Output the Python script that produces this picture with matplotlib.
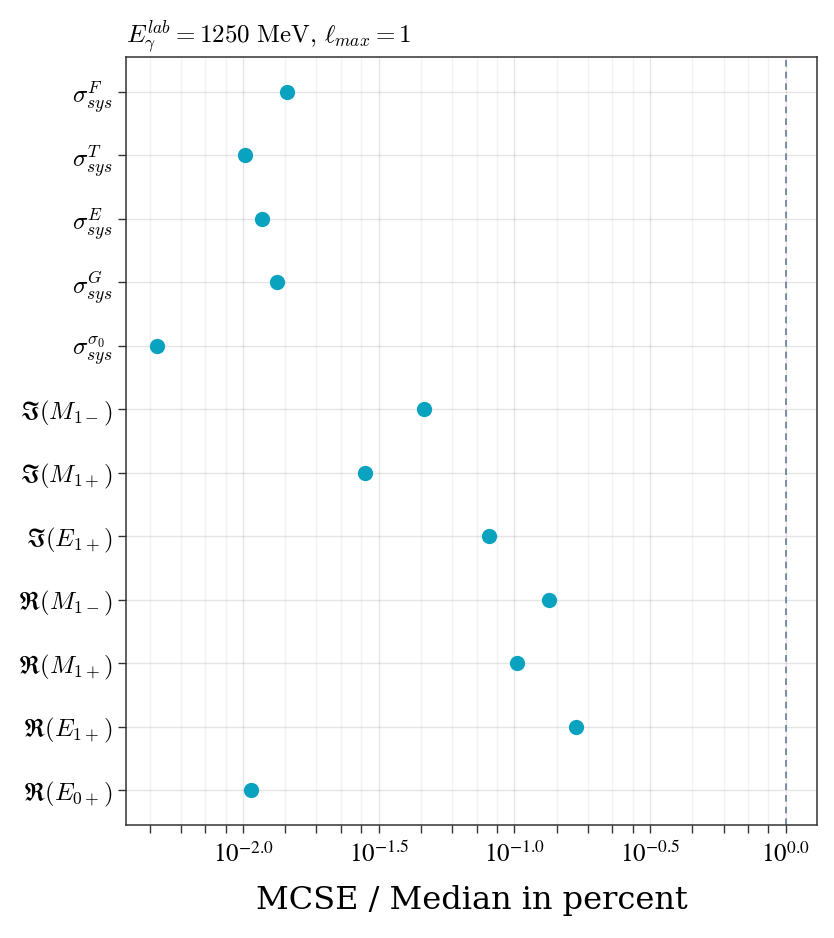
import numpy as np
import matplotlib
matplotlib.use('Agg')
import matplotlib.pyplot as plt

plt.rcParams['mathtext.fontset'] = 'cm'

# bottom to top
labels = [r'$\mathfrak{R}(E_{0+})$', r'$\mathfrak{R}(E_{1+})$', r'$\mathfrak{R}(M_{1+})$', r'$\mathfrak{R}(M_{1-})$',
          r'$\mathfrak{I}(E_{1+})$', r'$\mathfrak{I}(M_{1+})$', r'$\mathfrak{I}(M_{1-})$',
          r'$\sigma_{sys}^{\sigma_0}$', r'$\sigma_{sys}^{G}$', r'$\sigma_{sys}^{E}$',
          r'$\sigma_{sys}^{T}$', r'$\sigma_{sys}^{F}$']
mcse = [0.01067, 0.1687, 0.1023, 0.134,
        0.0806, 0.0281, 0.0465,
        0.00484, 0.01338, 0.01172, 0.0102, 0.01452]
major_exp = [-2.5, -2.0, -1.5, -1.0, -0.5, 0.0]

fig = plt.figure(figsize=(8.34, 9.38), dpi=100)
ax = fig.add_axes([0.1511, 0.1205, 0.9793 - 0.1511, 0.9396 - 0.1205])

ypos = np.arange(1, len(labels) + 1)
ax.plot(mcse, ypos, 'o', color='#0aa3bf', markersize=11, markeredgewidth=0, zorder=3)
ax.axvline(1.0, color='#6b7a99', linestyle=(0, (4, 3)), linewidth=1.2, zorder=2)

ax.set_xscale('log')

# minor ticks split each half decade into 5 equal linear steps
majors = [10**e for e in major_exp]
minors = []
for lo, hi in zip(majors[:-1], majors[1:]):
    minors.extend(np.linspace(lo, hi, 6)[1:-1])
minors.extend(np.linspace(majors[-1], 10**0.5, 6)[1:-1])
minors.extend(np.linspace(10**-3.0, majors[0], 6)[1:-1])
ax.set_xticks(majors)
ax.set_xticklabels([r'$10^{%.1f}$' % e for e in major_exp])
ax.set_xticks(minors, minor=True)
ax.xaxis.set_minor_formatter(matplotlib.ticker.NullFormatter())
for t in ax.get_xticklabels():
    t.set_math_fontfamily('stix')
    t.set_fontsize(18)

ax.set_yticks(ypos)
ax.set_yticklabels(labels, fontsize=18)

ax.set_xlim(10**-2.431, 10**0.114)
ax.set_ylim(0.45, len(labels) + 0.55)

ax.tick_params(axis='both', which='both', direction='out', length=6, width=1,
               color='#333333', top=False, right=False)
ax.tick_params(axis='x', which='major', pad=6)
ax.grid(True, which='major', axis='both', color='black', alpha=0.1, linewidth=1)
ax.grid(True, which='minor', axis='x', color='black', alpha=0.05, linewidth=1)
ax.set_axisbelow(True)
for s in ax.spines.values():
    s.set_color('#333333')
    s.set_linewidth(1.1)

ax.set_xlabel('MCSE / Median in percent', fontsize=23, family='DejaVu Serif', labelpad=13)
ax.set_title(r'$E_{\gamma}^{lab}=1250\ \mathrm{MeV},\, \ell_{max}=1$', loc='left', fontsize=18, pad=10)

fig.savefig('out.png', dpi=100)
